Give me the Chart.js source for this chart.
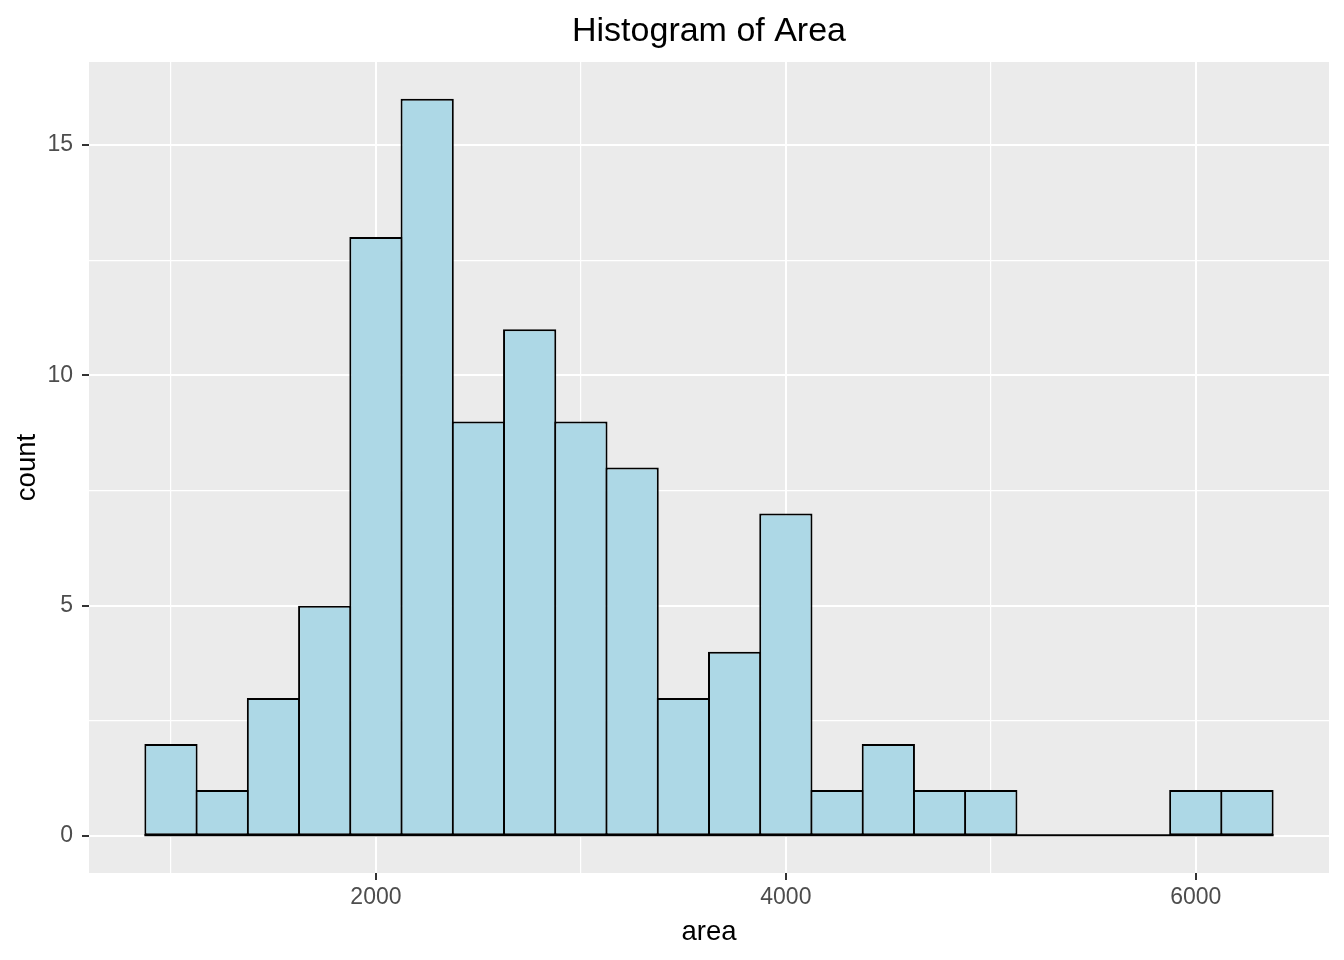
<!DOCTYPE html>
<html>
<head>
<meta charset="utf-8">
<script src="https://cdn.jsdelivr.net/npm/chart.js@4/dist/chart.umd.min.js"></script>
<style>
  body { margin: 0; background: #fff; }
  #wrap { width: 1344px; height: 960px; }
</style>
</head>
<body>
<div id="wrap"><canvas id="hist"></canvas></div>
<script>
// histogram bins (centre of each bin) and counts
const binMids = [1000, 1250, 1500, 1750, 2000, 2250, 2500, 2750, 3000, 3250, 3500,
                 3750, 4000, 4250, 4500, 4750, 5000, 5250, 5500, 5750, 6000, 6250];
const counts  = [2, 1, 3, 5, 13, 16, 9, 11, 9, 8, 3,
                 4, 7, 1, 2, 1, 1, 0, 0, 0, 1, 1];
const binWidth = 250;

// axis breaks (major get labels, minor only grid)
const xBreaks = [1000, 2000, 3000, 4000, 5000, 6000];
const xMajor = [2000, 4000, 6000];
const yBreaks = [0, 2.5, 5, 7.5, 10, 12.5, 15];
const yMajor = [0, 5, 10, 15];

const FONT = "'Liberation Sans', Arial, sans-serif";
Chart.defaults.font.family = FONT;

// fond gris du panneau + ligne de base a zero
const panelPlugin = {
  id: 'panel',
  beforeDraw(chart) {
    const a = chart.chartArea, c = chart.ctx;
    c.save();
    c.fillStyle = '#EBEBEB';
    c.fillRect(a.left, a.top, a.right - a.left, a.bottom - a.top);
    c.restore();
  },
  afterDatasetsDraw(chart) {
    const x = chart.scales.x, y = chart.scales.y, c = chart.ctx;
    const y0 = y.getPixelForValue(0) - 1;
    c.save();
    c.strokeStyle = '#000';
    c.lineWidth = 2;
    c.beginPath();
    c.moveTo(x.getPixelForValue(binMids[0] - binWidth / 2) - 1, y0);
    c.lineTo(x.getPixelForValue(binMids[binMids.length - 1] + binWidth / 2) + 1, y0);
    c.stroke();
    c.restore();
  }
};

const isMajor = (list, v) => list.indexOf(v) !== -1;

new Chart(document.getElementById('hist').getContext('2d'), {
  type: 'bar',
  data: {
    datasets: [{
      data: binMids.map((m, i) => ({ x: m, y: counts[i] })),
      backgroundColor: '#ADD8E6',
      borderColor: '#000000',
      borderWidth: 2,
      borderSkipped: false,
      barPercentage: 1.039,
      categoryPercentage: 1
    }]
  },
  options: {
    responsive: true,
    maintainAspectRatio: false,
    animation: false,
    layout: { padding: { left: 0, right: 15, top: 0, bottom: 0 } },
    plugins: {
      legend: { display: false },
      tooltip: { enabled: false },
      title: {
        display: true,
        text: 'Histogram of Area',
        fullSize: false,
        color: '#000',
        font: { size: 34, weight: 'normal', family: FONT },
        padding: { top: 11, bottom: 10.2 }
      }
    },
    scales: {
      x: {
        type: 'linear',
        min: 600,
        max: 6650,
        offset: false,
        afterBuildTicks: s => { s.ticks = xBreaks.map(v => ({ value: v })); },
        afterFit: s => { s.height = 87; },
        ticks: {
          autoSkip: false,
          maxRotation: 0,
          padding: 4,
          color: '#4D4D4D',
          font: { size: 23 },
          callback: v => isMajor(xMajor, v) ? String(v) : ''
        },
        grid: {
          offset: false,
          color: '#FFFFFF',
          lineWidth: ctx => isMajor(xMajor, ctx.tick.value) ? 2 : 1.2,
          tickLength: 7,
          tickColor: ctx => isMajor(xMajor, ctx.tick.value) ? '#333333' : 'rgba(0,0,0,0)',
          tickWidth: 2
        },
        border: { display: false },
        title: {
          display: true,
          text: 'area',
          color: '#000',
          font: { size: 27.5 },
          padding: { top: 0, bottom: 11 }
        }
      },
      y: {
        min: -0.8,
        max: 16.8,
        afterBuildTicks: s => { s.ticks = yBreaks.map(v => ({ value: v })); },
        afterFit: s => { s.width = 89; },
        ticks: {
          padding: 9,
          color: '#4D4D4D',
          font: { size: 23 },
          callback: v => isMajor(yMajor, v) ? String(v) : ''
        },
        grid: {
          color: '#FFFFFF',
          lineWidth: ctx => isMajor(yMajor, ctx.tick.value) ? 2 : 1.2,
          tickLength: 7,
          tickColor: ctx => isMajor(yMajor, ctx.tick.value) ? '#333333' : 'rgba(0,0,0,0)',
          tickWidth: 2
        },
        border: { display: false },
        title: {
          display: true,
          text: 'count',
          color: '#000',
          font: { size: 27.5 },
          padding: { top: 11, bottom: 0 }
        }
      }
    }
  },
  plugins: [panelPlugin]
});
</script>
</body>
</html>
